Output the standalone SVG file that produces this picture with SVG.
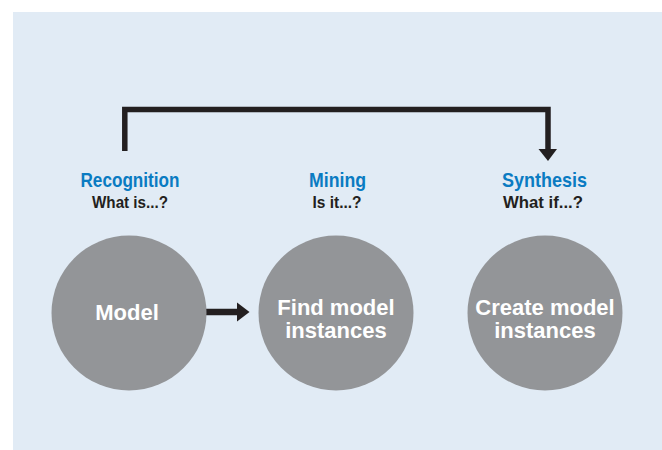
<svg xmlns="http://www.w3.org/2000/svg" width="662" height="450" viewBox="0 0 662 450">
<style>
.node{fill:#939598}
.nt{font-family:"Liberation Sans",Arial,sans-serif;font-weight:bold;font-size:22px;fill:#ffffff;text-anchor:middle}
.lbl{font-family:"Liberation Sans",Arial,sans-serif;font-weight:bold;font-size:20.5px;fill:#0a7bc2;text-anchor:middle}
.q{font-family:"Liberation Sans",Arial,sans-serif;font-weight:bold;font-size:16.5px;fill:#231f20;text-anchor:middle}
.line{fill:none;stroke:#231f20;stroke-width:5.5}
.head{fill:#231f20}
</style>
<rect x="0" y="0" width="662" height="450" fill="#ffffff"/>
<rect x="13" y="12" width="649" height="438" fill="#e1ebf5"/>
<g id="connectors">
<path class="line" d="M124.8 151 V109.5 H548 V149"/>
<polygon class="head" points="538.5,149 557,149 548,161"/>
<path d="M206 312 H238" stroke="#231f20" stroke-width="6.5" fill="none"/>
<polygon class="head" points="237,302.5 249.5,312 237,321.5"/>
</g>
<g id="recognition">
<text class="lbl" x="130" y="187.3" textLength="99" lengthAdjust="spacingAndGlyphs">Recognition</text>
<text class="q" x="130" y="207.7" textLength="76" lengthAdjust="spacingAndGlyphs">What is...?</text>
</g>
<g id="mining">
<text class="lbl" x="337.5" y="187.3" textLength="57" lengthAdjust="spacingAndGlyphs">Mining</text>
<text class="q" x="337" y="207.7" textLength="49" lengthAdjust="spacingAndGlyphs">Is it...?</text>
</g>
<g id="synthesis">
<text class="lbl" x="544.5" y="187.3" textLength="85" lengthAdjust="spacingAndGlyphs">Synthesis</text>
<text class="q" x="543" y="207.7" textLength="80" lengthAdjust="spacingAndGlyphs">What if...?</text>
</g>
<g id="model">
<circle class="node" cx="129" cy="313" r="77.5"/>
<text class="nt" x="127" y="320">Model</text>
</g>
<g id="find">
<circle class="node" cx="336" cy="313" r="77.5"/>
<text class="nt" x="336" y="314.5">Find model</text>
<text class="nt" x="336" y="338">instances</text>
</g>
<g id="create">
<circle class="node" cx="545" cy="313" r="77.5"/>
<text class="nt" x="545" y="314.5">Create model</text>
<text class="nt" x="545" y="338">instances</text>
</g>
</svg>
